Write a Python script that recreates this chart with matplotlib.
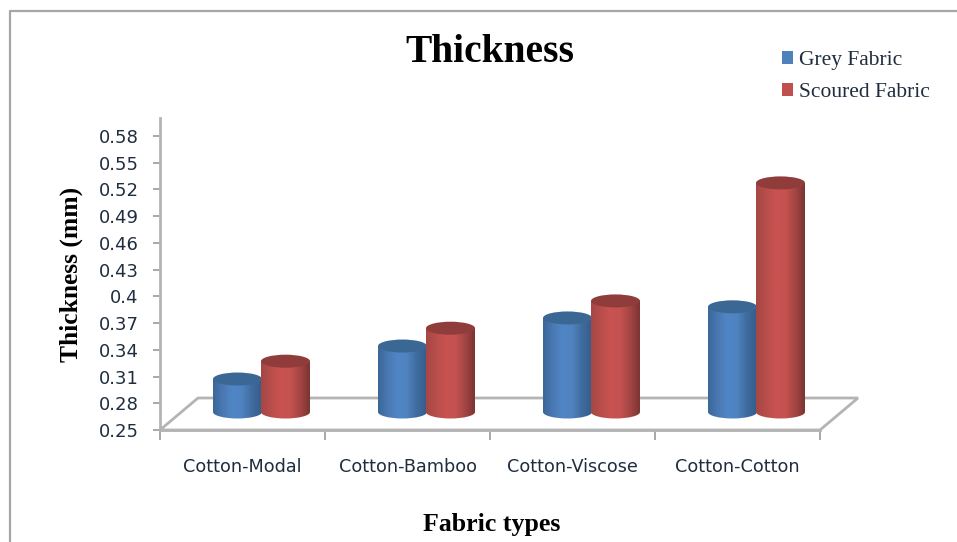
import numpy as np
import matplotlib
matplotlib.use("Agg")
import matplotlib.pyplot as plt
from matplotlib.patches import Patch, PathPatch, Polygon, Ellipse
from matplotlib.path import Path
from matplotlib.lines import Line2D
from matplotlib.colors import LinearSegmentedColormap

categories = ["Cotton-Modal", "Cotton-Bamboo", "Cotton-Viscose", "Cotton-Cotton"]
grey_fabric = [0.287, 0.324, 0.3555, 0.368]
scoured_fabric = [0.307, 0.344, 0.3746, 0.507]
y_ticks = [0.25, 0.28, 0.31, 0.34, 0.37, 0.40, 0.43, 0.46, 0.49, 0.52, 0.55, 0.58]
y_tick_labels = ["0.25", "0.28", "0.31", "0.34", "0.37", "0.4", "0.43", "0.46", "0.49", "0.52", "0.55", "0.58"]

W, H = 957, 542
fig = plt.figure(figsize=(W / 100, H / 100), dpi=100, facecolor="white")
ax = fig.add_axes([160 / W, 1 - 430 / H, 660 / W, 312 / H])
ax.set_xlim(0, 4)
ax.set_ylim(0.25, 0.60)
ax.set_facecolor("none")

GRAY = "#b4b4b4"
TXT = "#1f2d3f"
px_x = 4 / 660
px_y = 0.35 / 312

# Floor
back_dx, back_dy = 38 * px_x, 32 * px_y
ax.add_patch(Polygon([(0, 0.25), (4, 0.25), (4 + back_dx, 0.25 + back_dy), (back_dx, 0.25 + back_dy)],
                     closed=True, fc="white", ec=GRAY, lw=2, clip_on=False, zorder=1))


def cylinder(cx, value, colors, top_color, z):
    dx, dy = 19 * px_x, 18 * px_y
    base = 0.25 + dy
    top = value + dy
    cx = cx + dx
    hw = 24.5 * px_x
    hh = 6.5 * px_y
    k = 0.5523
    verts = [(cx - hw, top), (cx - hw, base),
             (cx - hw, base - k * hh), (cx - k * hw, base - hh), (cx, base - hh),
             (cx + k * hw, base - hh), (cx + hw, base - k * hh), (cx + hw, base),
             (cx + hw, top), (cx - hw, top)]
    codes = [Path.MOVETO, Path.LINETO, Path.CURVE4, Path.CURVE4, Path.CURVE4,
             Path.CURVE4, Path.CURVE4, Path.CURVE4, Path.LINETO, Path.CLOSEPOLY]
    clip = PathPatch(Path(verts, codes), fc="none", ec="none", transform=ax.transData)
    ax.add_patch(clip)
    cmap = LinearSegmentedColormap.from_list("c", colors)
    g = np.linspace(0, 1, 64).reshape(1, -1)
    im = ax.imshow(g, cmap=cmap, extent=[cx - hw, cx + hw, base - hh, top], aspect="auto",
                   zorder=z, interpolation="bilinear")
    im.set_clip_path(clip)
    ax.add_patch(Ellipse((cx, top), 2 * hw, 2 * hh, fc=top_color, ec="none", zorder=z + 0.1, clip_on=False))


BLUE = ["#3b6899", "#4a79b3", "#5086c6", "#4f82bf", "#3f6c9f", "#355d8b"]
RED = ["#a54744", "#b84e4b", "#c85350", "#c45250", "#a54644", "#7c3533"]
width = 48 * px_x
for i, (g_val, s_val) in enumerate(zip(grey_fabric, scoured_fabric)):
    cylinder(i + 0.5 - width / 2, g_val, BLUE, "#3b6795", 3 + i)
    cylinder(i + 0.5 + width / 2, s_val, RED, "#8f3c3a", 3.5 + i)
ax.set_xlim(0, 4)
ax.set_ylim(0.25, 0.60)

# Axes
for s in ("top", "right"):
    ax.spines[s].set_visible(False)
for s in ("left", "bottom"):
    ax.spines[s].set_color(GRAY)
    ax.spines[s].set_linewidth(2)
ax.set_yticks(y_ticks)
ax.set_yticklabels(y_tick_labels, fontsize=13, color=TXT, family="DejaVu Sans")
ax.tick_params(axis="y", length=5, width=1.2, color="#9a9a9a", pad=10.5)
ax.set_xticks(np.arange(4) + 0.5)
ax.set_xticklabels(categories, fontsize=12.7, color=TXT, family="DejaVu Sans")
ax.set_xticks(np.arange(5), minor=True)
ax.tick_params(axis="x", which="major", length=0, pad=20.5)
ax.tick_params(axis="x", which="minor", length=7, width=1.2, color="#9a9a9a")

serif = "Liberation Serif"
ax.set_title("Thickness", fontsize=28.4, fontweight="bold", family=serif, color="black", pad=40)
ax.set_xlabel("Fabric types", fontsize=18.6, fontweight="bold", family=serif, color="black", labelpad=26.5, x=0.503)
ax.set_ylabel("Thickness (mm)", fontsize=18.4, fontweight="bold", family=serif, color="black", labelpad=11)

handles = [Patch(fc="#4f81bd", ec="none"), Patch(fc="#c0504d", ec="none")]
leg = fig.legend(handles, ["Grey Fabric", "Scoured Fabric"], loc="upper left",
                 bbox_to_anchor=(782 / W, 1 - 51 / H), frameon=False,
                 prop={"family": serif, "size": 15.5}, handlelength=0.52, handleheight=0.52,
                 handletextpad=0.28, labelspacing=0.62, borderpad=0, borderaxespad=0)
for t in leg.get_texts():
    t.set_color(TXT)

# Outer chart frame
fig.add_artist(Line2D([9.5 / W, 9.5 / W, 1], [0, 1 - 10.5 / H, 1 - 10.5 / H], color="#a6a6a6", lw=1.6))

fig.savefig("out.png", dpi=100)
